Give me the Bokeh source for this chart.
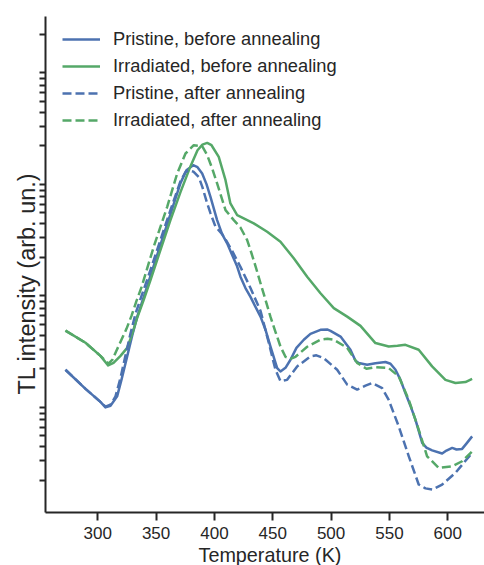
import math
from bokeh.plotting import figure
from bokeh.models import FixedTicker, Legend, LegendItem, Title
from bokeh.embed import file_html
from bokeh.resources import INLINE

# Thermoluminescence glow curves: temperature (K) vs TL intensity (arb. un.)
temp_pristine_before = [272.3, 289.5, 302.3, 306.6, 310.9, 316.6, 320.3, 325.2, 329.5, 333.8,
                        338.6, 345.2, 353.7, 362.3, 370.9, 376.0, 381.8, 385.5, 389.5, 393.2,
                        396.6, 402.3, 406.6, 410.9, 415.2, 419.5, 422.3, 426.6, 430.9, 435.2,
                        439.5, 443.8, 448.0, 451.5, 453.8, 456.6, 460.9, 465.2, 470.3, 476.6,
                        482.3, 490.9, 496.6, 499.5, 508.1, 516.6, 520.9, 523.7, 530.9, 538.0,
                        546.6, 550.9, 555.2, 559.5, 563.7, 568.0, 572.3, 578.1, 581.7, 586.6,
                        595.2, 598.9, 603.8, 607.5, 612.3, 616.0, 620.9]
tl_pristine_before = [19.6, 13.2, 10.1, 9.0, 9.3, 11.3, 15.9, 25.8, 39.5, 58.7,
                      82.9, 136, 258, 488, 925, 1208, 1340, 1286, 1130, 906,
                      697, 431, 323, 267, 210, 165, 134, 106, 88.2, 71.8,
                      58.7, 44.7, 31.7, 24.1, 20.3, 18.9, 20.4, 24.1, 30.8, 36.4,
                      41.1, 44.7, 45.1, 43.8, 38.9, 29.6, 23.6, 22.5, 21.7, 22.4,
                      23.0, 22.2, 19.6, 15.9, 12.1, 9.33, 6.99, 4.32, 3.92, 3.71,
                      3.47, 3.69, 3.90, 3.77, 3.82, 4.26, 4.95]

temp_irradiated_before = [272.3, 289.5, 302.3, 308.9, 313.5, 319.5, 325.2, 329.5, 333.8, 339.4,
                          345.2, 353.7, 362.3, 370.9, 379.5, 385.5, 389.7, 393.8, 397.5, 403.7,
                          409.5, 413.7, 419.5, 425.1, 433.7, 445.2, 456.6, 468.0, 479.5, 490.9,
                          502.3, 513.8, 525.2, 538.0, 549.4, 556.9, 563.7, 575.1, 586.6, 598.0,
                          606.6, 615.2, 620.9]
tl_irradiated_before = [44.0, 34.2, 26.1, 21.4, 22.6, 26.1, 30.8, 41.1, 57.2, 82.9,
                        125, 232, 431, 768, 1313, 1825, 2046, 2123, 2024, 1590,
                        984, 608, 478, 447, 403, 339, 276, 196, 134, 95.2,
                        69.9, 58.7, 48.5, 34.0, 31.7, 32.1, 32.8, 29.6, 21.0, 15.9,
                        14.9, 15.2, 16.2]

temp_pristine_after = [272.3, 289.5, 302.3, 306.6, 310.9, 315.2, 319.5, 323.7, 328.0, 332.3,
                       337.5, 345.2, 353.7, 362.3, 370.9, 375.2, 378.0, 382.0, 386.6, 389.7,
                       393.8, 396.6, 400.9, 406.6, 410.3, 415.2, 422.3, 430.9, 439.5, 446.6,
                       452.3, 456.6, 462.3, 470.9, 482.3, 487.4, 493.7, 505.2, 513.8, 522.3,
                       529.5, 535.2, 543.8, 549.4, 558.0, 566.6, 575.1, 580.9, 586.6, 595.2,
                       606.6, 620.9]
tl_pristine_after = [19.6, 13.2, 10.1, 9.14, 9.52, 11.3, 16.6, 26.1, 41.1, 62.1,
                     90.0, 154, 286, 530, 964, 1160, 1208, 1172, 1047, 851,
                     608, 498, 376, 323, 280, 228, 164, 106, 66.1, 34.2,
                     19.6, 15.5, 15.9, 21.0, 25.8, 26.4, 24.9, 19.6, 14.4, 13.0,
                     14.1, 14.9, 13.4, 10.5, 6.08, 3.28, 1.83, 1.69, 1.65, 1.83,
                     2.33, 3.52]

temp_irradiated_after = [272.3, 289.5, 302.3, 309.2, 312.6, 316.0, 320.3, 324.6, 328.9, 333.2,
                         337.5, 348.0, 359.5, 368.1, 375.2, 382.3, 389.5, 393.8, 398.1, 402.3,
                         409.5, 416.6, 422.3, 428.0, 430.9, 435.2, 439.5, 443.8, 448.0, 452.3,
                         456.6, 460.9, 465.2, 469.5, 479.5, 490.9, 496.9, 502.3, 513.8, 522.3,
                         530.3, 538.0, 549.4, 558.0, 566.6, 575.1, 582.3, 592.3, 603.8, 612.3,
                         620.9]
tl_irradiated_after = [44.0, 34.2, 26.1, 22.2, 24.1, 29.0, 36.4, 45.6, 59.6, 81.2,
                       108, 249, 567, 1130, 1706, 2024, 1983, 1648, 1253, 919,
                       530, 431, 370, 286, 232, 167, 117, 82.9, 58.7, 42.9,
                       31.7, 25.6, 24.6, 25.6, 31.5, 36.4, 37.1, 36.4, 30.8, 22.6,
                       20.0, 20.7, 20.3, 17.1, 10.5, 5.69, 3.28, 2.58, 2.67, 2.96,
                       3.63]

x_ticks = [300, 350, 400, 450, 500, 550, 600]

BLUE = "#4C72B0"
GREEN = "#55A868"
INK = "#262626"
FONT = "Liberation Sans"

p = figure(width=484, height=565, x_range=(255.2, 631.5), y_range=(1.027, 28900),
           y_axis_type="log", output_backend="svg", toolbar_location=None,
           min_border_left=45, min_border_right=0, min_border_top=16, min_border_bottom=52)
p.outline_line_color = None
p.xgrid.visible = False
p.ygrid.visible = False
p.background_fill_color = "white"
p.border_fill_color = "white"

r1 = p.line(temp_pristine_before, tl_pristine_before, line_color=BLUE, line_width=2.5, line_join="round")
r2 = p.line(temp_irradiated_before, tl_irradiated_before, line_color=GREEN, line_width=2.5, line_join="round")
r3 = p.line(temp_pristine_after, tl_pristine_after, line_color=BLUE, line_width=2.5, line_dash="9 4", line_join="round")
r4 = p.line(temp_irradiated_after, tl_irradiated_after, line_color=GREEN, line_width=2.5, line_dash="9 4", line_join="round")

# x axis
xa = p.xaxis[0]
xa.ticker = FixedTicker(ticks=x_ticks)
xa.axis_line_color = INK
xa.axis_line_width = 2
xa.major_tick_line_color = INK
xa.major_tick_line_width = 2
xa.major_tick_out = 8
xa.major_tick_in = 0
xa.minor_tick_line_color = None
xa.major_label_text_font = FONT
xa.major_label_text_font_size = "17px"
xa.major_label_text_color = INK
xa.major_label_standoff = 6

# x axis title below the tick labels
xtitle = Title(text="Temperature (K)", align="left", offset=153, standoff=0,
               vertical_align="bottom",
               text_font=FONT, text_font_size="19.8px", text_font_style="normal",
               text_color=INK)
p.add_layout(xtitle, "below")

# y axis: log scale, only the in-between decade ticks
minor = [k * 10 ** n for n in range(0, 5) for k in range(2, 10)]
ya = p.yaxis[0]
ya.ticker = FixedTicker(ticks=[], minor_ticks=minor)
ya.axis_line_color = INK
ya.axis_line_width = 2
ya.major_tick_line_color = None
ya.minor_tick_line_color = INK
ya.minor_tick_line_width = 1.8
ya.minor_tick_out = 6
ya.minor_tick_in = 0
ya.major_label_text_font_size = "0px"
ya.major_label_standoff = 3
ya.axis_label_standoff = 0

# y axis title, placed along the left side
ytitle = Title(text="TL intensity (arb. un.)", align="left", offset=118, standoff=0,
               text_font=FONT, text_font_size="23.5px", text_font_style="normal",
               text_color=INK)
p.add_layout(ytitle, "left")

legend = Legend(items=[
    LegendItem(label="Pristine, before annealing", renderers=[r1]),
    LegendItem(label="Irradiated, before annealing", renderers=[r2]),
    LegendItem(label="Pristine, after annealing", renderers=[r3]),
    LegendItem(label="Irradiated, after annealing", renderers=[r4]),
], location=(17, 380.5), margin=0, padding=0, spacing=3,
    glyph_width=38, glyph_height=24, label_height=24, label_standoff=13,
    label_text_font=FONT, label_text_font_size="18.3px", label_text_color=INK,
    border_line_color=None, background_fill_alpha=0)
p.add_layout(legend)

open("out.html", "w").write(file_html(p, INLINE))
